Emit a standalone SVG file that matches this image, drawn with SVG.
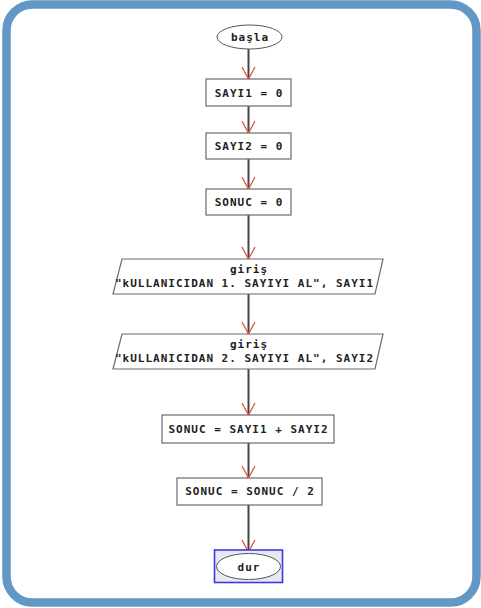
<svg xmlns="http://www.w3.org/2000/svg" width="481" height="608" viewBox="0 0 481 608">
<style>
.t{font-family:"DejaVu Sans Mono","Liberation Mono",monospace;font-weight:bold;font-size:11px;letter-spacing:1px;fill:#222;text-anchor:middle}
.box{fill:#fff;stroke:#6a6a6a;stroke-width:1.2}
.ell{fill:#fff;stroke:#555;stroke-width:1}
.c{stroke:#444;stroke-width:2;fill:none;marker-end:url(#v)}
</style>
<defs>
<marker id="v" markerUnits="userSpaceOnUse" markerWidth="20" markerHeight="20" refX="0" refY="0" orient="auto" overflow="visible">
<polyline points="-12,-6.5 0,0 -12,6.5" fill="none" stroke="#e8584f" stroke-width="1.4"/>
</marker>
</defs>
<rect x="0" y="0" width="481" height="608" fill="#fff"/>
<rect id="frame" x="6.5" y="4.5" width="470" height="598" rx="26" fill="#fff" stroke="#6198c6" stroke-width="8.5"/>
<g id="connectors">
<path class="c" d="M248.5 49V79"/>
<path class="c" d="M248.5 106V133"/>
<path class="c" d="M248.5 159V189"/>
<path class="c" d="M248.5 215V259"/>
<path class="c" d="M248.5 294V334"/>
<path class="c" d="M248.5 369V415"/>
<path class="c" d="M248.5 443V478"/>
<path class="c" d="M248.5 505V552"/>
</g>
<g id="basla">
<ellipse class="ell" cx="249.5" cy="37" rx="32.5" ry="12"/>
<text class="t" x="250" y="41">başla</text>
</g>
<g id="sayi1">
<rect class="box" x="206" y="79" width="85" height="27"/>
<text class="t" x="249" y="96.5">SAYI1 = 0</text>
</g>
<g id="sayi2">
<rect class="box" x="206" y="133" width="85" height="26"/>
<text class="t" x="249" y="150">SAYI2 = 0</text>
</g>
<g id="sonuc0">
<rect class="box" x="206" y="189" width="85" height="26"/>
<text class="t" x="249" y="206">SONUC = 0</text>
</g>
<g id="giris1">
<polygon class="box" points="122,259 383,259 375,294 113,294"/>
<text class="t" x="249" y="273">giriş</text>
<text class="t" x="244.5" y="287">"kULLANICIDAN 1. SAYIYI AL", SAYI1</text>
</g>
<g id="giris2">
<polygon class="box" points="122,334 383,334 375,369 113,369"/>
<text class="t" x="249" y="348">giriş</text>
<text class="t" x="244.5" y="362">"kULLANICIDAN 2. SAYIYI AL", SAYI2</text>
</g>
<g id="toplam">
<rect class="box" x="162" y="415" width="172" height="28"/>
<text class="t" x="248.5" y="433">SONUC = SAYI1 + SAYI2</text>
</g>
<g id="bolme">
<rect class="box" x="177" y="478" width="145" height="27"/>
<text class="t" x="250" y="495">SONUC = SONUC / 2</text>
</g>
<g id="dur">
<rect x="214.5" y="550" width="68" height="32.5" fill="#e9e9ef" stroke="#3a3ae6" stroke-width="1.6"/>
<ellipse class="ell" cx="248.5" cy="566.5" rx="32" ry="13"/>
<text class="t" x="249" y="570.5">dur</text>
</g>
</svg>
